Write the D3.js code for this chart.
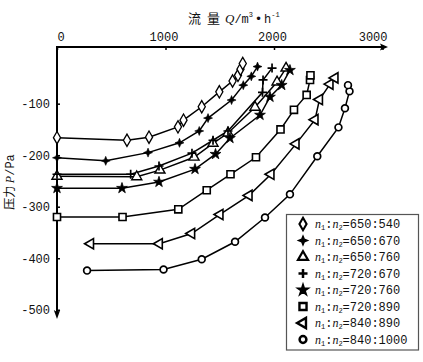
<!DOCTYPE html>
<html><head><meta charset="utf-8">
<script src="https://cdn.jsdelivr.net/npm/d3@7"></script>
<style>body{margin:0;background:#fff}svg{display:block}</style>
</head><body><svg id="c" width="423" height="362"></svg>
<script>
// ---- data ----
const xTicks = [0, 1000, 2000, 3000];
const yTicks = [-100, -200, -300, -400, -500];
const ratios = ["650:540","650:670","650:760","720:670","720:760","720:890","840:890","840:1000"];
const q650_540 = [0,645,848,1115,1166,1334,1496,1618,1668,1691,1712];
const p650_540 = [-166,-171,-165,-145,-132,-106,-77,-56,-45,-33,-22];
const q650_670 = [0,449,839,1129,1311,1392,1609,1717,1791,1848];
const p650_670 = [-205,-211,-195,-176,-153,-128,-93,-64,-47,-28];
const q650_760 = [0,735,949,1263,1438,1576,1825,2028,2111];
const p650_760 = [-241,-242,-229,-204,-177,-157,-107,-58,-31];
const q720_670 = [0,679,940,1244,1438,1576,1894,1899,1982];
const p720_670 = [-237,-237,-221,-196,-171,-153,-78,-54,-31];
const q720_760 = [0,599,940,1272,1461,1594,1871,1963,2071,2147];
const p720_760 = [-264,-264,-252,-227,-198,-167,-122,-87,-64,-35];
const q720_890 = [0,604,1118,1380,1599,1834,2060,2184,2301,2332,2336];
const p720_890 = [-320,-320,-305,-268,-237,-204,-150,-112,-83,-54,-45];
const q840_890 = [309,943,1241,1502,1770,1972,2203,2378,2419,2516,2562];
const p840_890 = [-372,-372,-352,-315,-278,-237,-178,-131,-92,-62,-50];
const q840_1000 = [277,982,1334,1641,1917,2147,2399,2594,2654,2696,2682];
const p840_1000 = [-424,-422,-402,-368,-321,-276,-202,-146,-109,-76,-64];

const seriesQ = [q650_540,q650_670,q650_760,q720_670,q720_760,q720_890,q840_890,q840_1000];
const seriesP = [p650_540,p650_670,p650_760,p720_670,p720_760,p720_890,p840_890,p840_1000];

// ---- layout ----
const svg = d3.select("#c");
const x = d3.scaleLinear().domain([0, 3000]).range([57, 382.5]);
const y = d3.scaleLinear().domain([10, -516]).range([47, 318]);
const mono = "'Liberation Mono', 'DejaVu Sans Mono', monospace";

// marker definitions
const star4 = "M0,-4.5L1.3,-1.3L4.5,0L1.3,1.3L0,4.5L-1.3,1.3L-4.5,0L-1.3,-1.3Z";
const markers = [
  {d: d3.symbol(d3.symbolDiamond, 44)(), fill: "#fff", sw: 1.3, rot: 0},
  {d: star4, fill: "#000", sw: 0.6, rot: 0},
  {d: d3.symbol(d3.symbolTriangle, 44)(), fill: "#fff", sw: 1.4, rot: 0},
  {d: "M-4.5,0H4.5M0,-4.5V4.5", fill: "none", sw: 1.7, rot: 0},
  {d: d3.symbol(d3.symbolStar, 36)(), fill: "#000", sw: 0.8, rot: 0},
  {d: d3.symbol(d3.symbolSquare, 50)(), fill: "#fff", sw: 1.6, rot: 0},
  {d: d3.symbol(d3.symbolTriangle, 46)(), fill: "#fff", sw: 1.6, rot: -90},
  {d: d3.symbol(d3.symbolCircle, 36)(), fill: "#fff", sw: 1.7, rot: 0}
];

// ---- axes ----
const gx = svg.append("g").attr("transform", "translate(0,47)")
  .call(d3.axisTop(x).tickValues(xTicks).tickSizeInner(-3).tickSizeOuter(0).tickPadding(6).tickFormat(d3.format("d")));
gx.select(".domain").remove();
gx.selectAll(".tick line").attr("stroke", "#000").attr("stroke-width", 1.5);
gx.selectAll(".tick text").attr("font-family", mono).attr("font-size", 12).attr("fill", "#111")
  .attr("dx", (d, i) => i === 0 ? 0 : (i === xTicks.length - 1 ? 0 : -2))
  .attr("text-anchor", (d, i) => i === 0 ? "start" : (i === xTicks.length - 1 ? "end" : "middle"))
  .attr("x", (d, i) => i === xTicks.length - 1 ? 387 - x(d) : 0);

const gy = svg.append("g").attr("transform", "translate(57,0)")
  .call(d3.axisLeft(y).tickValues(yTicks).tickSizeInner(-3).tickSizeOuter(0).tickPadding(7).tickFormat(d => String(d)));
gy.select(".domain").remove();
gy.selectAll(".tick line").attr("stroke", "#000").attr("stroke-width", 1.5);
gy.selectAll(".tick text").attr("font-family", mono).attr("font-size", 12).attr("fill", "#111");

// axis lines with arrows
svg.append("line").attr("x1", x(0)).attr("x2", 384).attr("y1", 47).attr("y2", 47)
  .attr("stroke", "#000").attr("stroke-width", 2);
svg.append("path").attr("d", "M388,47L380,43.5L381.5,47L380,50.5Z").attr("fill", "#000");
svg.append("line").attr("x1", 57).attr("x2", 57).attr("y1", 46).attr("y2", 314)
  .attr("stroke", "#000").attr("stroke-width", 2);
svg.append("path").attr("d", "M57,319L53.8,310L57,312L60.2,310Z").attr("fill", "#000");

// ---- series ----
const line = d3.line().x(d => x(d[0])).y(d => y(d[1]));
seriesQ.forEach((qs, i) => {
  const pts = qs.map((q, j) => [q, seriesP[i][j]]);
  svg.append("path").attr("d", line(pts)).attr("fill", "none")
    .attr("stroke", "#000").attr("stroke-width", 1.5);
});
seriesQ.forEach((qs, i) => {
  const m = markers[i];
  svg.append("g").selectAll("path").data(qs.map((q, j) => [q, seriesP[i][j]])).join("path")
    .attr("d", m.d)
    .attr("transform", d => `translate(${x(d[0])},${y(d[1])}) rotate(${m.rot})`)
    .attr("fill", m.fill).attr("stroke", "#000").attr("stroke-width", m.sw);
});

// ---- titles ----
const t = svg.append("text").attr("x", 188).attr("y", 23).attr("font-size", 13).attr("fill", "#111");
t.append("tspan").attr("font-family", "'Noto Sans CJK SC'").attr("letter-spacing", 6).text("流量");
t.append("tspan").attr("font-family", "'Liberation Serif'").attr("font-style", "italic").attr("dx", -1).text("Q");
t.append("tspan").attr("font-family", mono).attr("font-size", 12).text("/m");
t.append("tspan").attr("font-family", mono).attr("font-size", 7).attr("dy", -6).text("3");
t.append("tspan").attr("font-family", "'DejaVu Sans'").attr("font-size", 12).attr("dy", 6).attr("dx", 2).text("•");
t.append("tspan").attr("font-family", mono).attr("font-size", 12).attr("dx", 2).text("h");
t.append("tspan").attr("font-family", mono).attr("font-size", 7).attr("dy", -6).text("-1");

const yt = svg.append("text").attr("transform", "translate(14,182) rotate(-90)")
  .attr("text-anchor", "middle").attr("font-size", 12).attr("fill", "#111");
yt.append("tspan").attr("font-family", "'Noto Sans CJK SC'").text("压力 ");
yt.append("tspan").attr("font-family", "'Liberation Serif'").attr("font-style", "italic").text("P");
yt.append("tspan").attr("font-family", mono).text("/Pa");

// ---- legend ----
const lg = svg.append("g");
lg.append("rect").attr("x", 286.5).attr("y", 214.5).attr("width", 132).attr("height", 135.5)
  .attr("fill", "#fff").attr("stroke", "#555").attr("stroke-width", 1.2);
ratios.forEach((r, i) => {
  const cy = 224 + i * 16.5;
  const m = markers[i];
  lg.append("path").attr("d", m.d)
    .attr("transform", `translate(303,${cy}) rotate(${m.rot})`)
    .attr("fill", m.fill).attr("stroke", "#000").attr("stroke-width", m.sw + 0.8);
  const tx = lg.append("text").attr("x", 315).attr("y", cy + 4).attr("font-size", 12).attr("fill", "#111");
  tx.append("tspan").attr("font-family", "'Liberation Serif'").attr("font-style", "italic").text("n");
  tx.append("tspan").attr("font-family", mono).attr("font-size", 7).attr("dy", 2).text("1");
  tx.append("tspan").attr("font-family", mono).attr("dy", -2).text(":");
  tx.append("tspan").attr("font-family", "'Liberation Serif'").attr("font-style", "italic").text("n");
  tx.append("tspan").attr("font-family", mono).attr("font-size", 7).attr("dy", 2).text("2");
  tx.append("tspan").attr("font-family", mono).attr("dy", -2).text("=" + r);
});
</script></body></html>
